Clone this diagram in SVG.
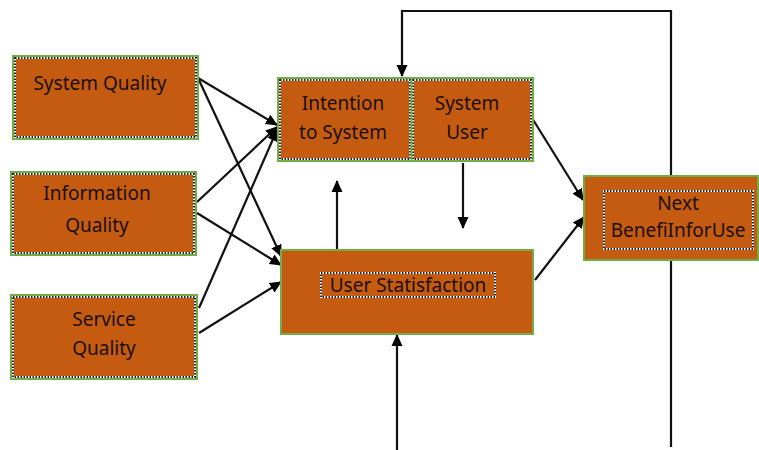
<svg xmlns="http://www.w3.org/2000/svg" width="759" height="450" viewBox="0 0 759 450">
<style>
.box{fill:#C55A11;stroke:#70AD47;stroke-width:2}
.dot{fill:none;stroke:#ffffff;stroke-width:2}
.dotb{fill:none;stroke:#222;stroke-width:2;stroke-dasharray:1.5 1.5}
.t{font-family:"Noto Sans","Open Sans",sans-serif;font-size:19px;fill:#1a100a;text-anchor:middle}
.c{stroke:#111;stroke-width:2.2;fill:none}
</style>
<defs>
<marker id="ah" markerWidth="12" markerHeight="12" refX="11" refY="6" orient="auto" markerUnits="userSpaceOnUse" viewBox="0 0 12 12">
<path d="M0,0.5 L12,6 L0,11.5 z" fill="#000"/>
</marker>
</defs>
<g id="connectors">
<polyline class="c" points="671,447 671,11 402,11 402,76" marker-end="url(#ah)"/>
<line class="c" x1="198" y1="78" x2="277" y2="125" marker-end="url(#ah)"/>
<line class="c" x1="198" y1="78" x2="281" y2="256" marker-end="url(#ah)"/>
<line class="c" x1="197" y1="202" x2="277" y2="127" marker-end="url(#ah)"/>
<line class="c" x1="197" y1="213" x2="281" y2="265" marker-end="url(#ah)"/>
<line class="c" x1="199" y1="308" x2="277" y2="130" marker-end="url(#ah)"/>
<line class="c" x1="199" y1="333" x2="281" y2="282" marker-end="url(#ah)"/>
<line class="c" x1="337" y1="250" x2="337" y2="181" marker-end="url(#ah)"/>
<line class="c" x1="463" y1="163" x2="463" y2="228" marker-end="url(#ah)"/>
<line class="c" x1="397" y1="450" x2="397" y2="335" marker-end="url(#ah)"/>
<line class="c" x1="532" y1="118" x2="583" y2="200" marker-end="url(#ah)"/>
<line class="c" x1="535" y1="280" x2="584" y2="217" marker-end="url(#ah)"/>
</g>
<g id="system-quality">
<rect class="box" x="13" y="56" width="185" height="83"/>
<rect class="dot" x="15" y="58" width="181" height="79"/>
<rect class="dotb" x="15" y="58" width="181" height="79"/>
<text class="t" x="100" y="90">System Quality</text>
</g>
<g id="information-quality">
<rect class="box" x="11" y="172" width="185" height="83"/>
<rect class="dot" x="13" y="174" width="181" height="79"/>
<rect class="dotb" x="13" y="174" width="181" height="79"/>
<text class="t" x="97" y="200">Information</text>
<text class="t" x="97" y="232">Quality</text>
</g>
<g id="service-quality">
<rect class="box" x="11" y="295" width="186" height="84"/>
<rect class="dot" x="13" y="297" width="182" height="80"/>
<rect class="dotb" x="13" y="297" width="182" height="80"/>
<text class="t" x="104" y="326">Service</text>
<text class="t" x="104" y="355">Quality</text>
</g>
<g id="intention-system-user">
<rect class="box" x="278" y="78" width="255" height="83"/>
<rect class="dot" x="280" y="80" width="130" height="79"/>
<rect class="dotb" x="280" y="80" width="130" height="79"/>
<rect class="dot" x="413" y="80" width="118" height="79"/>
<rect class="dotb" x="413" y="80" width="118" height="79"/>
<line x1="411.5" y1="78" x2="411.5" y2="161" stroke="#70AD47" stroke-width="2"/>
<text class="t" x="343" y="110">Intention</text>
<text class="t" x="343" y="139">to System</text>
<text class="t" x="467" y="110">System</text>
<text class="t" x="467" y="139">User</text>
</g>
<g id="user-satisfaction">
<rect class="box" x="281" y="250" width="252" height="84"/>
<rect class="dot" x="321" y="273" width="174" height="24"/>
<rect class="dotb" x="321" y="273" width="174" height="24"/>
<text class="t" x="408" y="292">User Statisfaction</text>
</g>
<g id="next-benefit">
<rect class="box" x="584" y="176" width="174" height="84"/>
<rect class="dot" x="604" y="191" width="149" height="58"/>
<rect class="dotb" x="604" y="191" width="149" height="58"/>
<text class="t" x="678" y="210">Next</text>
<text class="t" x="678" y="237">BenefiInforUse</text>
</g>
</svg>
